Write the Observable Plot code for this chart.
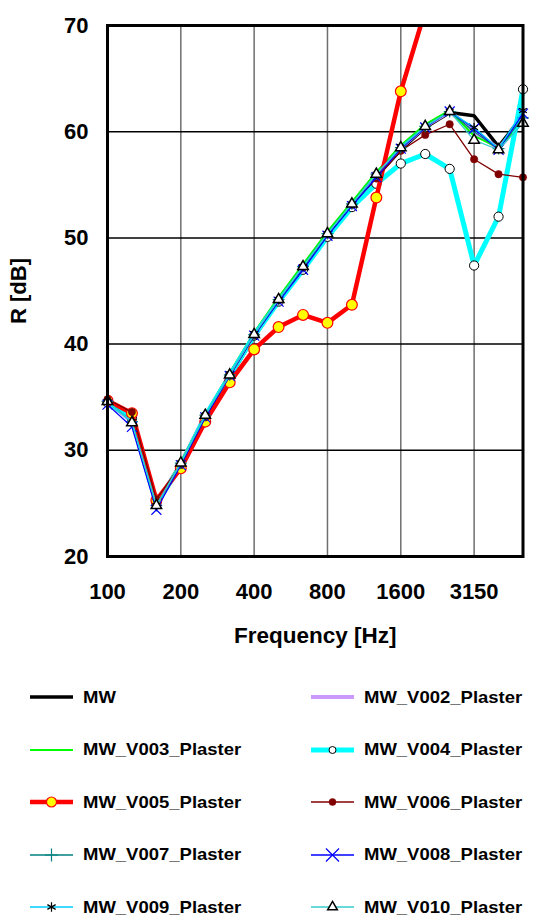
<!DOCTYPE html>
<html><head><meta charset="utf-8">
<script src="https://cdn.jsdelivr.net/npm/d3@7"></script>
<script src="https://cdn.jsdelivr.net/npm/@observablehq/plot@0.6"></script>
<style>
body{margin:0;background:#fff;font-family:"Liberation Sans",Arial,sans-serif;}
#legend{display:grid;grid-template-columns:281px 232px;padding-left:30px;}
.item{height:52.5px;display:flex;align-items:center;font-weight:bold;font-size:16.5px;color:#000;white-space:nowrap;}
.item svg{margin-right:10px;flex:none;}
.item span{display:inline-block;transform:scaleX(1.12);transform-origin:left center;}
</style></head><body><div id="chart"></div><div id="legend"></div><script>
// 1/3-octave band centre frequencies (Hz)
const freqs = [100,125,160,200,250,315,400,500,630,800,1000,1250,1600,2000,2500,3150,4000,5000];
const xTickIdx = [0,3,6,9,12,15];
const yTicks = [20,30,40,50,60,70];
const yGrid = [30,40,50,60];

// Sound reduction index R [dB] per band
const MW            = [34.5,32.8,25.0,28.6,33.1,36.9,40.7,44.0,47.1,50.2,53.0,55.8,58.3,60.4,61.8,61.5,58.6,61.5];
const MW_V002       = [34.6,32.7,24.9,28.8,33.3,37.1,40.9,44.2,47.3,50.4,53.2,56.0,58.5,60.5,61.9,60.0,58.4,61.2];
const MW_V003       = [34.6,32.8,25.0,28.9,33.4,37.3,41.1,44.4,47.5,50.6,53.4,56.2,58.7,60.7,62.0,59.6,58.5,61.0];
const MW_V004       = [34.5,33.0,25.0,28.5,33.2,37.0,40.8,44.0,47.0,50.1,52.9,55.1,57.0,57.9,56.5,47.4,52.0,64.0];
const MW_V005       = [34.7,33.5,25.3,28.3,32.7,36.4,39.5,41.6,42.75,42.0,43.7,53.8,63.8,71.4,null,null,null,null];
const MW_V006       = [34.8,33.6,25.4,28.6,33.1,37.0,40.8,44.1,47.2,50.3,53.1,55.6,58.2,59.7,60.7,57.4,56.0,55.7];
const MW_V007       = [34.6,32.7,24.8,28.8,33.3,37.1,40.9,44.2,47.3,50.4,53.2,56.0,58.5,60.5,61.9,60.0,58.4,61.3];
const MW_V008       = [34.3,32.2,24.4,28.6,33.1,37.0,40.8,44.0,47.0,50.2,53.0,55.7,58.4,60.4,61.9,60.3,58.3,61.7];
const MW_V009       = [34.6,32.7,24.8,28.8,33.3,37.2,41.0,44.2,47.3,50.4,53.2,56.0,58.6,60.5,61.9,60.4,58.4,62.0];
const MW_V010       = [34.6,32.6,24.8,28.8,33.3,37.1,40.9,44.2,47.3,50.4,53.2,56.0,58.5,60.5,61.9,59.2,58.3,60.8];

const seriesNames = ["MW","MW_V002_Plaster","MW_V003_Plaster","MW_V004_Plaster","MW_V005_Plaster",
  "MW_V006_Plaster","MW_V007_Plaster","MW_V008_Plaster","MW_V009_Plaster","MW_V010_Plaster"];
const seriesValues = [MW,MW_V002,MW_V003,MW_V004,MW_V005,MW_V006,MW_V007,MW_V008,MW_V009,MW_V010];

// styles
const styles = [
  {color:"#000000", width:3.5},
  {color:"#cc99ff", width:4},
  {color:"#00ff00", width:2},
  {color:"#00ffff", width:5, symbol:"circle", r:4.6, fill:"#ffffff", mstroke:"#000", msw:1, lr:3.5},
  {color:"#ff0000", width:4.5, symbol:"circle", r:5.4, fill:"#ffff00", mstroke:"#ff0000", msw:1.2, lr:5, clip:true},
  {color:"#800000", width:1.3, symbol:"circle", r:3.7, fill:"#800000", mstroke:"#800000", msw:0.5, lr:3.5},
  {color:"#008080", width:1.3, symbol:"plus", r:3.9, fill:"none", mstroke:"#008080", msw:1.2, lr:4.3},
  {color:"#0000ff", width:1.3, symbol:"times", r:4.6, fill:"none", mstroke:"#0000ff", msw:1.2, lr:6},
  {color:"#00ccff", width:1.3, symbol:"asterisk", r:4.2, fill:"none", mstroke:"#000000", msw:1.2, lr:4.5},
  {color:"#33cccc", width:1.3, symbol:"triangle", r:3.9, fill:"#ffffff", mstroke:"#000000", msw:1.5, lr:3.6}
];

const marks = [
  Plot.ruleX(xTickIdx.slice(1), {stroke:"#6e6e6e", strokeWidth:1.5}),
  Plot.ruleY(yGrid, {stroke:"#000", strokeWidth:1.5})
];
seriesValues.forEach((vals, k) => {
  const s = styles[k];
  const d = vals.map((v,i)=>({i, v})).filter(p => p.v != null);
  marks.push(Plot.line(d, {x:"i", y:"v", stroke:s.color, strokeWidth:s.width, strokeLinejoin:"miter", clip: !!s.clip}));
  if (s.symbol) marks.push(Plot.dot(d, {x:"i", y:"v", symbol:s.symbol, r:s.r, fill:s.fill, stroke:s.mstroke, strokeWidth:s.msw, clip: !!s.clip}));
});
marks.push(Plot.frame({stroke:"#000", strokeWidth:3}));
marks.push(Plot.axisX(xTickIdx, {tickSize:0, tickPadding:27, tickFormat:i => String(freqs[i]), fontSize:22, fontWeight:"bold", label:null}));
marks.push(Plot.axisY(yTicks, {tickSize:0, tickPadding:19, fontSize:22, fontWeight:"bold", label:null}));
marks.push(Plot.text(["R [dB]"], {frameAnchor:"left", dx:-89, rotate:-90, textAnchor:"middle", lineAnchor:"middle", fontSize:22, fontWeight:"bold"}));
marks.push(Plot.text(["Frequency [Hz]"], {frameAnchor:"bottom", dy:79, textAnchor:"middle", lineAnchor:"middle", fontSize:22.5, fontWeight:"bold"}));

const chart = Plot.plot({
  width:543, height:671,
  marginLeft:107, marginRight:20.5, marginTop:25, marginBottom:115,
  x:{domain:[0,17], axis:null},
  y:{domain:[20,70], axis:null},
  style:{fontFamily:"'Liberation Sans', Arial, sans-serif", background:"white", color:"#000", overflow:"visible"},
  marks
});
document.getElementById("chart").appendChild(chart);

// legend (two columns, row-major)
const symMap = {circle:d3.symbolCircle, plus:d3.symbolPlus, times:d3.symbolTimes, asterisk:d3.symbolAsterisk, triangle:d3.symbolTriangle};
const legend = d3.select("#legend");
seriesNames.forEach((name, k) => {
  const s = styles[k];
  const item = legend.append("div").attr("class","item");
  const sv = item.append("svg").attr("width",43).attr("height",20);
  sv.append("line").attr("x1",0).attr("x2",43).attr("y1",10).attr("y2",10)
    .attr("stroke",s.color).attr("stroke-width",Math.max(s.width,1.5)).attr("stroke-linecap","round");
  if (s.symbol) {
    sv.append("path").attr("transform","translate(21.5,10)")
      .attr("d", d3.symbol(symMap[s.symbol], Math.PI*s.lr*s.lr)())
      .attr("fill", s.fill).attr("stroke", s.mstroke).attr("stroke-width", s.msw);
  }
  item.append("span").text(name);
});
</script></body></html>
